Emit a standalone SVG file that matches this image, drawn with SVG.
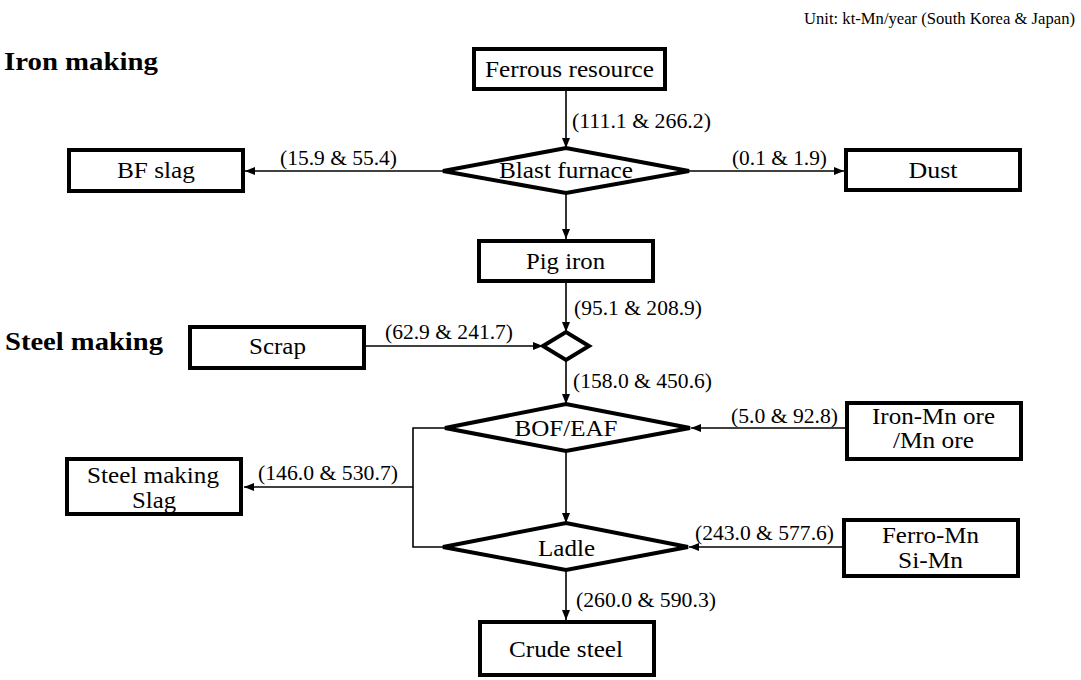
<svg xmlns="http://www.w3.org/2000/svg" width="1081" height="680" viewBox="0 0 1081 680" font-family="'Liberation Serif', 'Times New Roman', serif">
<defs>
<style>
.box{fill:#fff;stroke:#000;stroke-width:4}
.dia{fill:#fff;stroke:#000;stroke-width:4;stroke-linejoin:miter}
.ln{fill:none;stroke:#000;stroke-width:1.6}
text{font-family:'Liberation Serif','Times New Roman',serif;fill:#000}
.t{font-size:23px;text-anchor:middle}
.lb{font-size:20px}
.un{font-size:17px}
.hd{font-size:25px;font-weight:bold}
</style>
<marker id="ah" markerUnits="userSpaceOnUse" markerWidth="12" markerHeight="10" refX="10" refY="4" orient="auto">
<path d="M0,0 L10,4 L0,8 z" fill="#000"/>
</marker>
</defs>
<rect width="1081" height="680" fill="#fff"/>
<text class="un" x="804" y="24" textLength="271" lengthAdjust="spacingAndGlyphs">Unit: kt-Mn/year (South Korea &amp; Japan)</text>
<text class="hd" x="4" y="70" textLength="154" lengthAdjust="spacingAndGlyphs">Iron making</text>
<text class="hd" x="5" y="350" textLength="158" lengthAdjust="spacingAndGlyphs">Steel making</text>

<g id="connectors">
<line class="ln" x1="566" y1="91" x2="566" y2="148" marker-end="url(#ah)"/>
<line class="ln" x1="443" y1="171" x2="245" y2="171" marker-end="url(#ah)"/>
<line class="ln" x1="689" y1="171" x2="844" y2="171" marker-end="url(#ah)"/>
<line class="ln" x1="566" y1="193" x2="566" y2="239" marker-end="url(#ah)"/>
<line class="ln" x1="566" y1="283" x2="566" y2="332" marker-end="url(#ah)"/>
<line class="ln" x1="366" y1="346" x2="543" y2="346" marker-end="url(#ah)"/>
<line class="ln" x1="566" y1="360" x2="566" y2="404" marker-end="url(#ah)"/>
<line class="ln" x1="845" y1="428" x2="691" y2="428" marker-end="url(#ah)"/>
<line class="ln" x1="566" y1="451" x2="566" y2="523" marker-end="url(#ah)"/>
<line class="ln" x1="842" y1="547" x2="689" y2="547" marker-end="url(#ah)"/>
<line class="ln" x1="566" y1="570" x2="566" y2="620" marker-end="url(#ah)"/>
<path class="ln" d="M445,428 H413 V547 H443"/>
<line class="ln" x1="413" y1="487" x2="244" y2="487" marker-end="url(#ah)"/>
<text class="lb" x="572" y="128" textLength="139" lengthAdjust="spacingAndGlyphs">(111.1 &amp; 266.2)</text>
<text class="lb" x="280" y="165" textLength="117" lengthAdjust="spacingAndGlyphs">(15.9 &amp; 55.4)</text>
<text class="lb" x="732" y="165" textLength="95" lengthAdjust="spacingAndGlyphs">(0.1 &amp; 1.9)</text>
<text class="lb" x="574" y="315" textLength="128" lengthAdjust="spacingAndGlyphs">(95.1 &amp; 208.9)</text>
<text class="lb" x="385" y="339" textLength="128" lengthAdjust="spacingAndGlyphs">(62.9 &amp; 241.7)</text>
<text class="lb" x="573" y="388" textLength="139" lengthAdjust="spacingAndGlyphs">(158.0 &amp; 450.6)</text>
<text class="lb" x="731" y="423" textLength="107" lengthAdjust="spacingAndGlyphs">(5.0 &amp; 92.8)</text>
<text class="lb" x="258" y="480" textLength="140" lengthAdjust="spacingAndGlyphs">(146.0 &amp; 530.7)</text>
<text class="lb" x="695" y="540" textLength="139" lengthAdjust="spacingAndGlyphs">(243.0 &amp; 577.6)</text>
<text class="lb" x="576" y="607" textLength="140" lengthAdjust="spacingAndGlyphs">(260.0 &amp; 590.3)</text>
</g>

<g id="ferrous-resource">
<rect class="box" x="474" y="49" width="191" height="40"/>
<text class="t" x="569.5" y="77" textLength="169" lengthAdjust="spacingAndGlyphs">Ferrous resource</text>
</g>
<g id="blast-furnace">
<polygon class="dia" points="443,171 566,148 689,171 566,193"/>
<text class="t" x="566" y="178" textLength="134" lengthAdjust="spacingAndGlyphs">Blast furnace</text>
</g>
<g id="bf-slag">
<rect class="box" x="69" y="150" width="174" height="41"/>
<text class="t" x="156" y="178" textLength="78" lengthAdjust="spacingAndGlyphs">BF slag</text>
</g>
<g id="dust">
<rect class="box" x="846" y="150" width="174" height="40"/>
<text class="t" x="933" y="178" textLength="49" lengthAdjust="spacingAndGlyphs">Dust</text>
</g>
<g id="pig-iron">
<rect class="box" x="479" y="241" width="174" height="40"/>
<text class="t" x="565.5" y="269" textLength="79" lengthAdjust="spacingAndGlyphs">Pig iron</text>
</g>
<g id="scrap">
<rect class="box" x="190" y="327" width="174" height="41"/>
<text class="t" x="277.5" y="354" textLength="57" lengthAdjust="spacingAndGlyphs">Scrap</text>
</g>
<g id="mixer">
<polygon class="dia" points="543,346 566,332 589,346 566,360"/>
</g>
<g id="bof-eaf">
<polygon class="dia" points="445,428 566,404 690,428 566,451"/>
<text class="t" x="566" y="436" textLength="103" lengthAdjust="spacingAndGlyphs">BOF/EAF</text>
</g>
<g id="iron-mn-ore">
<rect class="box" x="847" y="403" width="174" height="56"/>
<text class="t" x="933.5" y="424" textLength="123" lengthAdjust="spacingAndGlyphs">Iron-Mn ore</text>
<text class="t" x="933.5" y="448" textLength="81" lengthAdjust="spacingAndGlyphs">/Mn ore</text>
</g>
<g id="steel-making-slag">
<rect class="box" x="67" y="459" width="174" height="55"/>
<text class="t" x="153" y="483" textLength="132" lengthAdjust="spacingAndGlyphs">Steel making</text>
<text class="t" x="154" y="508" textLength="44" lengthAdjust="spacingAndGlyphs">Slag</text>
</g>
<g id="ladle">
<polygon class="dia" points="443,547 566,523 688,547 566,570"/>
<text class="t" x="566.5" y="556" textLength="57" lengthAdjust="spacingAndGlyphs">Ladle</text>
</g>
<g id="ferro-mn">
<rect class="box" x="844" y="520" width="174" height="56"/>
<text class="t" x="930.5" y="543" textLength="97" lengthAdjust="spacingAndGlyphs">Ferro-Mn</text>
<text class="t" x="930.5" y="568" textLength="65" lengthAdjust="spacingAndGlyphs">Si-Mn</text>
</g>
<g id="crude-steel">
<rect class="box" x="480" y="622" width="174" height="53"/>
<text class="t" x="566" y="657" textLength="114" lengthAdjust="spacingAndGlyphs">Crude steel</text>
</g>
</svg>
